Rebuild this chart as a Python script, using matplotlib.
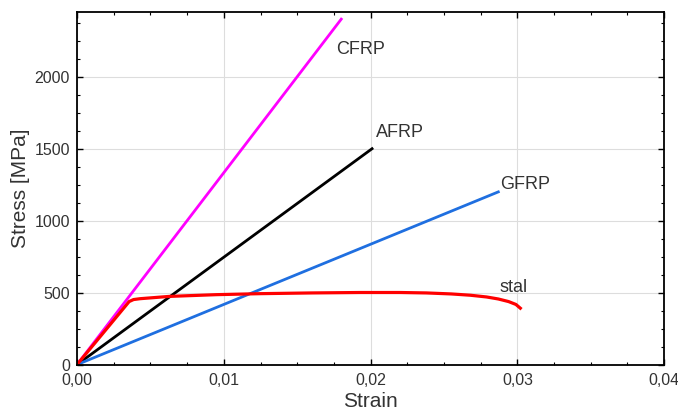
import matplotlib.pyplot as plt
from matplotlib.ticker import MultipleLocator, FuncFormatter

plt.rcParams['font.family'] = ['Liberation Sans', 'DejaVu Sans']

# stress-strain data
cfrp_strain = [0.0, 0.0180]
cfrp_stress = [0, 2400]
afrp_strain = [0.0, 0.0201]
afrp_stress = [0, 1500]
gfrp_strain = [0.0, 0.0287]
gfrp_stress = [0, 1200]
stal_strain = [0.0, 0.00355, 0.00385, 0.0043, 0.0063, 0.0095, 0.0125, 0.0160, 0.0193,
               0.0220, 0.0238, 0.0255, 0.0268, 0.0279, 0.0287, 0.0294, 0.0299, 0.0302]
stal_stress = [0, 438, 452, 458, 474, 486, 493, 498, 501,
               501, 498, 491, 482, 470, 456, 438, 418, 392]

names = ['CFRP', 'AFRP', 'GFRP', 'stal']
label_pos = [(0.01765, 2190), (0.0204, 1610), (0.0288, 1250), (0.0288, 535)]

fig = plt.figure(figsize=(6.78, 4.12), dpi=100)
ax = fig.add_axes([0.1136, 0.115, 0.866, 0.856])

ax.plot(cfrp_strain, cfrp_stress, color='#ff00ff', lw=2.0)
ax.plot(afrp_strain, afrp_stress, color='black', lw=2.0)
ax.plot(gfrp_strain, gfrp_stress, color='#1f6fe0', lw=2.0)
ax.plot(stal_strain, stal_stress, color='#ff0000', lw=2.3, solid_joinstyle='round')

for name, (x, y) in zip(names, label_pos):
    ax.text(x, y, name, fontsize=13, color='#333333', va='center', ha='left')

ax.set_xlim(0, 0.04)
ax.set_ylim(0, 2450)
ax.xaxis.set_major_locator(MultipleLocator(0.01))
ax.xaxis.set_minor_locator(MultipleLocator(0.0025))
ax.yaxis.set_major_locator(MultipleLocator(500))
ax.yaxis.set_minor_locator(MultipleLocator(125))
ax.xaxis.set_major_formatter(FuncFormatter(lambda v, p: f'{v:.2f}'.replace('.', ',')))

ax.grid(True, which='major', color='#dddddd', lw=0.8)
ax.tick_params(which='both', direction='in', top=True, right=True, colors='black',
               labelcolor='#333333', labelsize=11.5)
ax.tick_params(which='major', length=4, width=1)
ax.tick_params(which='minor', length=2.5, width=0.8)
ax.tick_params(axis='x', which='major', pad=6)
ax.tick_params(axis='y', which='major', pad=5)
for s in ax.spines.values():
    s.set_linewidth(1.3)

ax.set_xlabel('Strain', fontsize=15, color='#333333', labelpad=3)
ax.set_ylabel('Stress [MPa]', fontsize=15, color='#333333', labelpad=3)

fig.savefig('out.png', dpi=100)
